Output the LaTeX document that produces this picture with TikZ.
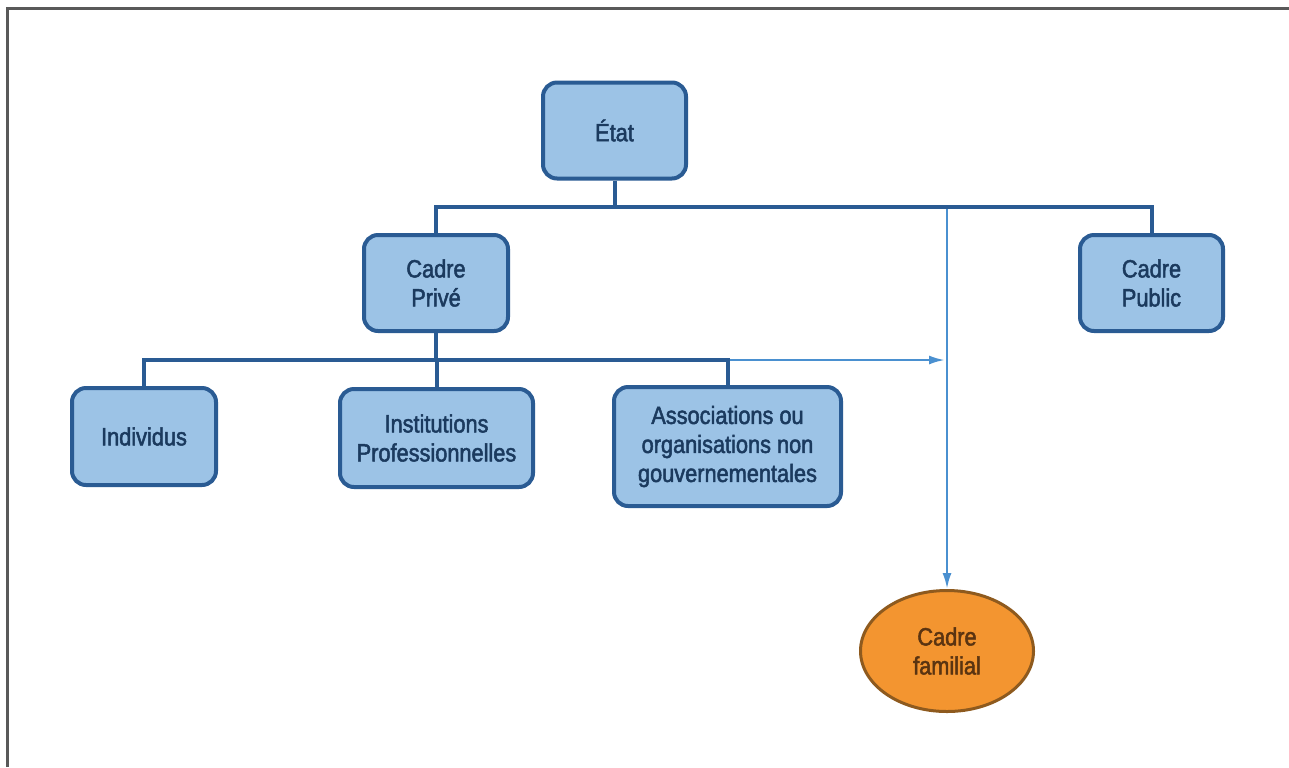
\documentclass[tikz,border=0pt]{standalone}
\usepackage{fontspec}
\setmainfont{Liberation Sans}[FakeStretch=0.87,FakeBold=2]
\usepackage{xcolor}
\usetikzlibrary{shapes.geometric,arrows.meta}

\definecolor{boxfill}{HTML}{9CC3E6}
\definecolor{boxline}{HTML}{2A5B93}
\definecolor{boxtext}{HTML}{1B3A5E}
\definecolor{linkblue}{HTML}{4A90D0}
\definecolor{famfill}{HTML}{F39530}
\definecolor{famline}{HTML}{8E5A1E}
\definecolor{famtext}{HTML}{5A3411}

\tikzset{
    unit/.style={draw=boxline, fill=boxfill, line width=2pt, rounded corners=7pt,
        text=boxtext, align=center, inner sep=2pt,
        font=\fontsize{12.5}{14.5}\selectfont},
    family/.style={ellipse, draw=famline, fill=famfill, line width=1.5pt,
        text=famtext, align=center, inner sep=0pt,
        minimum width=86.5pt, minimum height=60.5pt,
        font=\fontsize{12.5}{14.5}\selectfont},
    tree/.style={draw=boxline, line width=2pt},
    link/.style={draw=linkblue, line width=1.2pt, -{Latex[length=8pt,width=4.5pt]}}
}

\begin{document}
\begin{tikzpicture}[x=0.5pt,y=-0.5pt]
    \useasboundingbox (0,0) rectangle (1289,767);
    % frame
    \draw[gray!70!black, line width=1.5pt] (7,767) -- (7,8.5) -- (1289,8.5);

    % boxes
    \node[unit, minimum width=71.5pt, minimum height=48pt] (etat) at (614.5,130.5) {État};
    \node[unit, minimum width=72pt, minimum height=48pt] (prive) at (436,283) {Cadre\\Privé};
    \node[unit, minimum width=71.5pt, minimum height=48pt] (public) at (1151.5,283) {Cadre\\Public};
    \node[unit, minimum width=72pt, minimum height=48.5pt] (indiv) at (144,436.5) {Individus};
    \node[unit, minimum width=96.5pt, minimum height=49pt] (instit) at (436.5,438) {Institutions\\Professionnelles};
    \node[unit, minimum width=113.5pt, minimum height=59.5pt] (assoc) at (727.5,446.5) {Associations ou\\organisations non\\gouvernementales};
    \node[family] (famille) at (947,651) {Cadre\\familial};

    \coordinate (bus1) at (614,207);
    \coordinate (bus2) at (436,360);

    % links to the family frame
    \draw[link] (assoc.north |- bus2) -- ([xshift=-1pt]famille.north |- bus2);
    \draw[link] (famille.north |- bus1) -- (famille.north);

    % tree
    \draw[tree] (etat.south) -- (etat.south |- bus1);
    \draw[tree] (prive.north) -- (prive.north |- bus1) -- (public.north |- bus1) -- (public.north);
    \draw[tree] (prive.south) -- (prive.south |- bus2);
    \draw[tree] (indiv.north) -- (indiv.north |- bus2) -- (assoc.north |- bus2) -- (assoc.north);
    \draw[tree] (instit.north) -- (instit.north |- bus2);
\end{tikzpicture}
\end{document}
